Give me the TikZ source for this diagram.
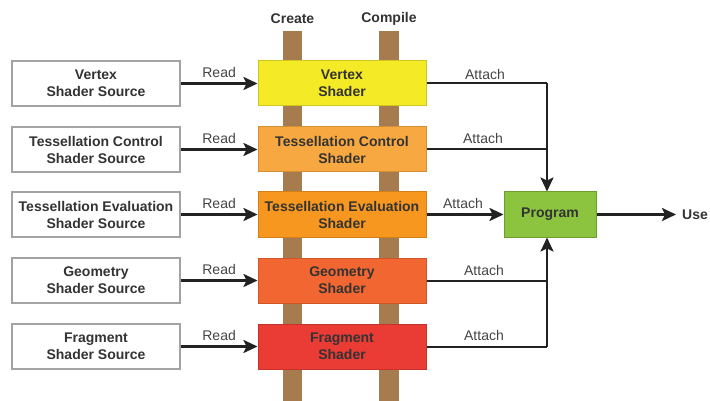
\documentclass[tikz,border=0pt]{standalone}
\usepackage{fontspec}
\setmainfont{Liberation Sans}
\usetikzlibrary{arrows.meta,calc}
\definecolor{srcborder}{HTML}{A3A3A3}
\definecolor{txtdark}{HTML}{333333}
\definecolor{labgray}{HTML}{444444}
\definecolor{polebrown}{HTML}{A67B4E}
\definecolor{cvert}{HTML}{F4EA26}
\definecolor{ctc}{HTML}{F8A840}
\definecolor{cte}{HTML}{F7971F}
\definecolor{cgeo}{HTML}{F26631}
\definecolor{cfrag}{HTML}{EA3B35}
\definecolor{cprog}{HTML}{8CC43F}
\definecolor{linecol}{HTML}{222222}
\tikzset{
  srcbox/.style={draw=srcborder, line width=1.4pt, fill=white, minimum width=168pt, minimum height=45pt,
    align=center, font=\fontsize{14}{17}\selectfont\bfseries, text=txtdark, inner sep=0pt},
  shbox/.style={draw=#1!85!black, line width=1pt, fill=#1, minimum width=168pt, minimum height=45pt,
    align=center, font=\fontsize{14}{17}\selectfont\bfseries, text=txtdark, inner sep=0pt},
  lab/.style={font=\fontsize{14}{16}\selectfont, text=labgray, inner sep=0pt},
  head/.style={font=\fontsize{14}{16}\selectfont\bfseries, text=txtdark, inner sep=0pt},
  conn/.style={draw=linecol, line width=2.3pt, -{Stealth[length=14pt,width=13pt,inset=3pt]}},
  connplain/.style={draw=linecol, line width=2pt},
  pole/.style={fill=polebrown, draw=none}
}
\begin{document}
\begin{tikzpicture}[x=1pt,y=-1pt]
\useasboundingbox (0,0) rectangle (710,401);
% poles
\fill[pole] (283,31) rectangle (302,401);
\fill[pole] (379,31) rectangle (399,401);
\node[head] (create) at (292.5,18.5) {Create};
\node[head] (compile) at (389,18.5) {Compile};
% source boxes
\node[srcbox] (s1) at (96,83.5) {Vertex\\Shader Source};
\node[srcbox] (s2) at (96,149.5) {Tessellation Control\\Shader Source};
\node[srcbox] (s3) at (96,214.5) {Tessellation Evaluation\\Shader Source};
\node[srcbox] (s4) at (96,280.5) {Geometry\\Shader Source};
\node[srcbox] (s5) at (96,346.5) {Fragment\\Shader Source};
% shader boxes
\node[shbox=cvert] (h1) at (342,83.5) {Vertex\\Shader};
\node[shbox=ctc] (h2) at (342,149.5) {Tessellation Control\\Shader};
\node[shbox=cte] (h3) at (342,214.5) {Tessellation Evaluation\\Shader};
\node[shbox=cgeo] (h4) at (342,280.5) {Geometry\\Shader};
\node[shbox=cfrag] (h5) at (342,346.5) {Fragment\\Shader};
% program
\node[draw=cprog!80!black, line width=1pt, fill=cprog, minimum width=92pt, minimum height=45pt,
  font=\fontsize{14}{16}\selectfont\bfseries, text=txtdark, inner sep=0pt] (prog) at (550,214.5) {Program};
\node[head, anchor=west] (use) at (682,214.5) {Use};
% read arrows
\foreach \i in {1,...,5}{
  \draw[conn] (s\i.east) -- (h\i.west);
  \node[lab] at ($(s\i.east)!0.5!(h\i.west)+(0,-11)$) {Read};
}
% attach lines
\coordinate (jtop) at (547,83.5);
\coordinate (jbot) at (547,346.5);
\draw[connplain] (h1.east) -- (jtop);
\draw[conn] (jtop) -- (jtop |- prog.north);
\draw[connplain] (h2.east) -- (h2.east -| jtop);
\draw[connplain] (h5.east) -- (jbot);
\draw[conn] (jbot) -- (jbot |- prog.south);
\draw[connplain] (h4.east) -- (h4.east -| jtop);
\draw[conn] (h3.east) -- (prog.west);
\draw[conn] (prog.east) -- ([xshift=-6pt]use.west);
\node[lab] at (485,74.5) {Attach};
\node[lab] at (483,138) {Attach};
\node[lab] at (463,203.5) {Attach};
\node[lab] at (484,270) {Attach};
\node[lab] at (484,335.5) {Attach};
\end{tikzpicture}
\end{document}
